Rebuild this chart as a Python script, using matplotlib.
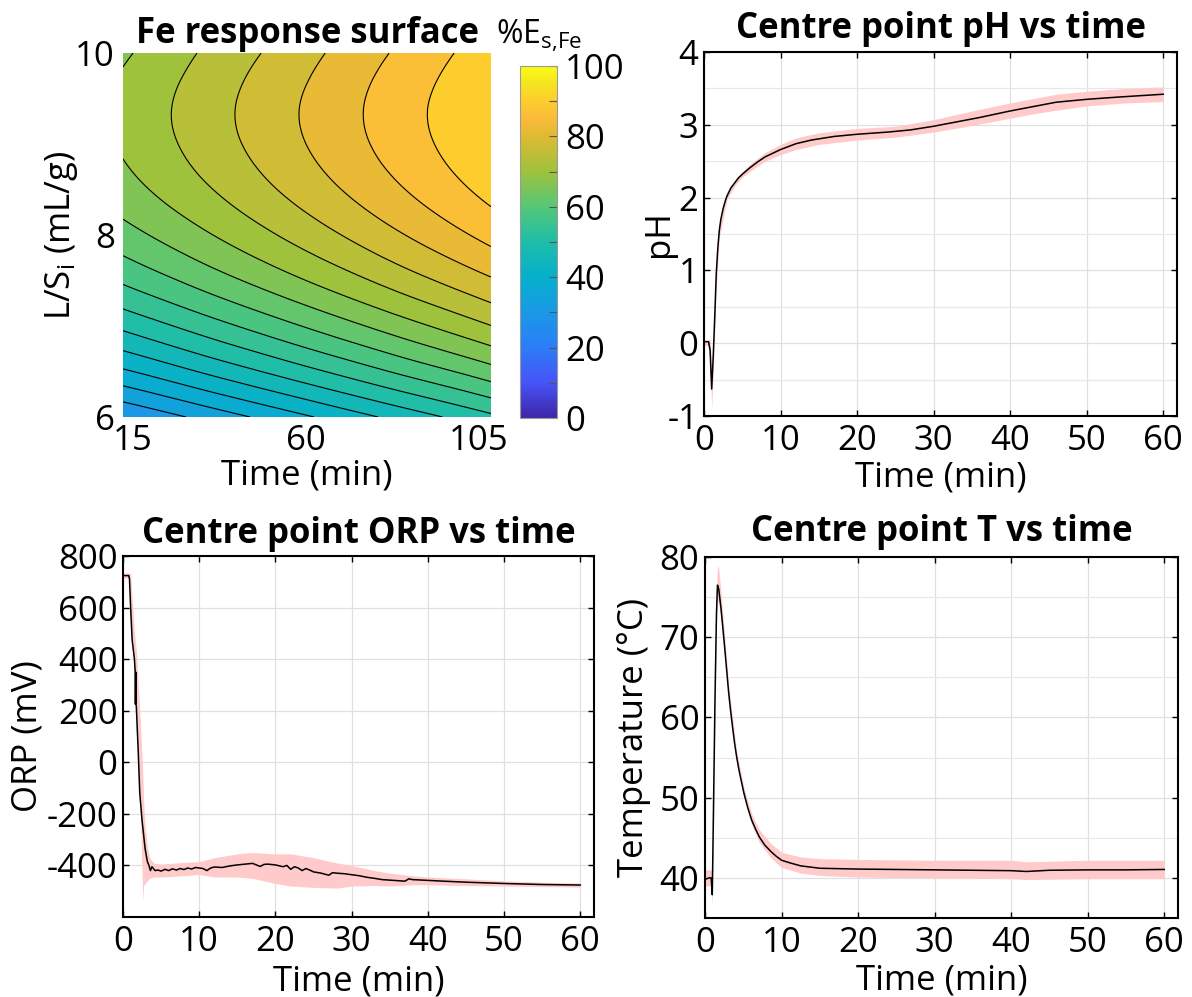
import numpy as np
import matplotlib
matplotlib.use('Agg')
import matplotlib.pyplot as plt
import matplotlib.tri as mtri
from matplotlib.colors import LinearSegmentedColormap, Normalize
from matplotlib.cm import ScalarMappable
from matplotlib.ticker import MultipleLocator

plt.rcParams['font.family'] = ['Open Sans', 'DejaVu Sans']
plt.rcParams['mathtext.fontset'] = 'custom'
plt.rcParams['mathtext.rm'] = 'Open Sans'
plt.rcParams['mathtext.it'] = 'Open Sans:italic'
plt.rcParams['axes.unicode_minus'] = False

FS = 25

# ---------------- data ----------------
# response surface (rows: L/S, cols: time)
rs_time = [12.4, 30, 45, 60, 75, 90, 108.1]
rs_ls = [6.0, 6.5, 7.0, 7.5, 8.0, 8.5, 9.0, 9.5, 10.0]
rs_fe = [
    [28.1, 32.3, 35.9, 39.5, 43.1, 46.7, 51.1],
    [39.4, 43.6, 47.2, 50.8, 54.4, 58.0, 62.4],
    [48.9, 53.1, 56.7, 60.3, 63.9, 67.5, 71.9],
    [56.6, 60.8, 64.4, 68.0, 71.6, 75.2, 79.5],
    [62.4, 66.6, 70.2, 73.8, 77.4, 81.0, 85.3],
    [66.4, 70.6, 74.2, 77.8, 81.4, 85.0, 89.3],
    [68.5, 72.8, 76.4, 80.0, 83.6, 87.2, 91.5],
    [68.9, 73.1, 76.7, 80.3, 83.9, 87.5, 91.8],
    [67.4, 71.6, 75.2, 78.8, 82.4, 86.0, 90.3],
]
rs_levels = list(range(0, 101, 4))

# pH vs time
ph_t = [0, 0.6, 0.8, 1.0, 1.2, 1.4, 1.6, 1.8, 2.0, 2.2, 2.5, 2.8, 3.0, 3.5, 4.0, 4.5, 5, 6, 7,
        8, 10, 12, 14, 17, 20, 24, 27, 30, 33, 36, 40, 43, 46, 50, 54, 57, 60]
ph_val = [0.02, 0.02, -0.1, -0.63, -0.2, 0.35, 0.95, 1.3, 1.55, 1.7, 1.85, 1.96, 2.02, 2.13,
          2.2, 2.27, 2.32, 2.41, 2.49, 2.56, 2.66, 2.74, 2.79, 2.84, 2.87, 2.9, 2.93, 2.98,
          3.04, 3.1, 3.19, 3.25, 3.31, 3.35, 3.38, 3.4, 3.42]
ph_bt = [0, 0.6, 0.8, 1.0, 1.2, 1.6, 2.0, 3.0, 4.0, 5, 6, 8, 10, 12, 15, 20, 25, 30, 35, 40,
         43, 46, 50, 55, 60]
ph_lo = [-0.03, -0.03, -0.25, -0.9, -0.45, 0.75, 1.45, 1.97, 2.16, 2.28, 2.36, 2.5, 2.59,
         2.66, 2.73, 2.79, 2.83, 2.9, 2.99, 3.09, 3.15, 3.2, 3.26, 3.3, 3.32]
ph_hi = [0.05, 0.05, 0.05, -0.4, 0.05, 1.1, 1.65, 2.07, 2.24, 2.36, 2.46, 2.62, 2.73, 2.82,
         2.89, 2.95, 2.98, 3.07, 3.19, 3.3, 3.36, 3.42, 3.46, 3.5, 3.52]

# ORP vs time
orp_t = [0, 0.75, 0.85, 1.0, 1.2, 1.5, 1.6, 1.63, 1.67, 1.7, 1.75, 2.0, 2.2, 2.5, 2.9, 3.2,
         3.4, 3.6, 3.8, 4.2, 4.6, 5.0, 5.5, 6.0, 6.5, 7.0, 7.5, 8.0, 8.5, 9.0, 9.5, 10.0,
         10.5, 11.0, 11.5, 12.0, 13.0, 14.0, 15.0, 16.0, 17.0, 17.5, 18.0, 18.5, 19.0, 20.0,
         21.0, 21.5, 22.0, 22.5, 23.0, 23.5, 24.0, 24.5, 25.0, 26.0, 27.0, 27.5, 28.0, 29.0,
         30.0, 31.0, 32.0, 33.0, 34.0, 35.0, 36.0, 37.0, 37.5, 38.0, 40.0, 42.0, 45.0, 48.0,
         50.0, 55.0, 60.0]
orp_mv = [724, 724, 712, 600, 475, 400, 350, 225, 350, 225, 215, 40, -120, -225, -335, -385,
          -400, -420, -405, -420, -418, -422, -415, -420, -413, -418, -412, -416, -410, -414,
          -408, -410, -412, -420, -410, -406, -408, -402, -398, -395, -392, -398, -404, -396,
          -395, -398, -405, -400, -415, -405, -410, -420, -412, -418, -425, -430, -438, -428,
          -430, -432, -436, -440, -446, -450, -455, -457, -459, -461, -452, -455, -458, -461,
          -465, -468, -470, -474, -476]
orp_bt = [0, 0.75, 0.9, 1.0, 1.2, 1.5, 1.8, 2.0, 2.3, 2.6, 2.7, 2.9, 3.2, 3.5, 4.0, 5, 8, 10,
          12, 15, 17, 20, 22, 25, 28, 30, 33, 35, 38, 40, 45, 50, 55, 60]
orp_lo = [715, 715, 690, 560, 450, 350, 150, -20, -200, -540, -480, -470, -460, -450, -445,
          -445, -440, -435, -445, -445, -450, -470, -480, -485, -488, -480, -478, -480, -475,
          -475, -478, -480, -482, -484]
orp_hi = [735, 735, 735, 730, 640, 500, 420, 300, 150, -50, -150, -250, -330, -370, -390,
          -395, -388, -385, -370, -355, -350, -355, -355, -370, -390, -400, -420, -430, -440,
          -445, -452, -460, -465, -468]

# temperature vs time
tc_t = [0, 0.5, 0.8, 0.95, 1.1, 1.3, 1.5, 1.63, 1.8, 2.1, 2.35, 2.6, 2.85, 3.1, 3.35, 3.6,
        3.85, 4.1, 4.35, 4.6, 5.1, 5.6, 6.1, 6.6, 7.1, 7.8, 8.6, 9.3, 10, 11, 12.5, 15, 20,
        25, 30, 35, 40, 42, 45, 50, 55, 60]
tc_val = [39.8, 40.0, 40.0, 37.9, 48, 62, 73, 76.5, 76.0, 73.5, 71.0, 68.4, 65.7, 63.0, 60.8,
          58.8, 56.9, 55.3, 53.9, 52.7, 50.5, 48.7, 47.2, 46.1, 45.1, 44.1, 43.3, 42.7, 42.2,
          41.9, 41.5, 41.2, 41.1, 41.05, 41.0, 40.95, 40.9, 40.8, 40.95, 41.0, 41.0, 41.05]
tc_bt = [0, 0.8, 0.95, 1.14, 1.34, 1.49, 1.63, 1.8, 2.1, 2.6, 3.1, 4.1, 5.1, 6.1, 7.1, 8.6,
         10, 12.5, 15, 20, 30, 40, 42, 50, 60]
tc_lo = [39.0, 39.0, 36.5, 47.5, 61.5, 71.5, 74.5, 74.3, 72.0, 67.3, 62.2, 54.7, 50.0, 46.6,
         44.4, 42.5, 41.3, 40.6, 40.3, 40.1, 40.0, 39.9, 39.8, 39.9, 39.9]
tc_hi = [41.0, 41.0, 39.5, 52.0, 66.5, 76.0, 79.0, 78.5, 75.5, 69.8, 64.0, 56.0, 51.2, 48.0,
         46.0, 44.3, 43.2, 42.6, 42.4, 42.3, 42.2, 42.2, 42.0, 42.2, 42.2]

# parula-like colormap
parula = LinearSegmentedColormap.from_list('parula', [
    (0.00, (0.2422, 0.1504, 0.6603)),
    (0.10, (0.2780, 0.3300, 0.9700)),
    (0.20, (0.1700, 0.4900, 0.9700)),
    (0.30, (0.1000, 0.6000, 0.9000)),
    (0.40, (0.0200, 0.6900, 0.8000)),
    (0.50, (0.1200, 0.7400, 0.6600)),
    (0.60, (0.3300, 0.7800, 0.4700)),
    (0.70, (0.6200, 0.7600, 0.2400)),
    (0.80, (0.8700, 0.7300, 0.2000)),
    (0.85, (0.9800, 0.7300, 0.2300)),
    (0.90, (0.9900, 0.8000, 0.1800)),
    (0.95, (0.9600, 0.8900, 0.1300)),
    (1.00, (0.9769, 0.9839, 0.0805)),
])
norm = Normalize(0, 100)

W, H = 1192, 997
fig = plt.figure(figsize=(W / 100, H / 100), dpi=100)


def box(l, t, r, b):
    return [l / W, 1 - b / H, (r - l) / W, (b - t) / H]


# ---------------- response surface ----------------
ax0 = fig.add_axes(box(123, 53, 491, 417))
tt, ll = np.meshgrid(rs_time, rs_ls)
zz = np.array(rs_fe)
# triangulate on normalised coords so the cubic refinement is isotropic
un = (tt.ravel() - rs_time[0]) / (rs_time[-1] - rs_time[0])
vn = (ll.ravel() - rs_ls[0]) / (rs_ls[-1] - rs_ls[0])
tri_n = mtri.Triangulation(un, vn)
tri_r, z_r = mtri.UniformTriRefiner(tri_n).refine_field(zz.ravel(), subdiv=4)
tri_p = mtri.Triangulation(rs_time[0] + tri_r.x * (rs_time[-1] - rs_time[0]),
                           rs_ls[0] + tri_r.y * (rs_ls[-1] - rs_ls[0]), tri_r.triangles)
ax0.tricontourf(tri_p, z_r, levels=rs_levels, cmap=parula, norm=norm)
ax0.tricontour(tri_p, z_r, levels=rs_levels, colors='k', linewidths=0.8)
ax0.set_xlim(rs_time[0], rs_time[-1])
ax0.set_ylim(6, 10)
ax0.set_xticks([15, 60, 105])
ax0.set_yticks([6, 8, 10])
ax0.tick_params(length=0, labelsize=FS)
ax0.tick_params(axis='x', pad=5)
ax0.tick_params(axis='y', pad=6)
for s in ax0.spines.values():
    s.set_visible(False)
ax0.set_title('Fe response surface', fontsize=FS, fontweight='bold', pad=7)
ax0.set_xlabel('Time (min)', fontsize=FS, va='baseline')
ax0.xaxis.set_label_coords(0.5, -67 / 364)
ax0.set_ylabel(r'L/S$_\mathregular{i}$ (mL/g)', fontsize=FS, va='center')
ax0.yaxis.set_label_coords(-61 / 368, 0.5)

cax = fig.add_axes(box(520, 66, 557, 418))
cb = fig.colorbar(ScalarMappable(norm=norm, cmap=parula), cax=cax)
cb.set_ticks(range(0, 101, 20))
cax.yaxis.set_minor_locator(MultipleLocator(10))
cax.tick_params(which='both', direction='in', length=6, width=0.8, color='#555555',
                labelsize=FS, pad=6)
cb.outline.set_edgecolor('#9a9a9a')
cb.outline.set_linewidth(0.8)
fig.text(539 / W, 1 - 44 / H, r'%E$_\mathregular{s{,}Fe}$', ha='center', va='baseline',
         fontsize=23)


# ---------------- time series ----------------
def series(ax, t, y, bt, lo, hi, title, ylabel, ylim, yticks, yminor, title_pad, ylab_x, xlab_y):
    ax.fill_between(bt, lo, hi, color='#ffcaca', lw=0, zorder=1.5)
    ax.plot(t, y, color='black', lw=1.1, zorder=3)
    ax.set_xlim(0, 61.8)
    ax.set_xticks(range(0, 61, 10))
    ax.set_ylim(*ylim)
    ax.set_yticks(yticks)
    if yminor:
        ax.yaxis.set_minor_locator(MultipleLocator(yminor))
        ax.grid(True, which='minor', axis='y', color='#e8e8e8', lw=0.9)
    ax.grid(True, which='major', color='#e0e0e0', lw=0.9)
    ax.set_axisbelow(True)
    ax.tick_params(which='major', direction='in', length=4, width=1, top=True, right=True,
                   labelsize=FS)
    ax.tick_params(axis='x', pad=6)
    ax.tick_params(axis='y', pad=4)
    ax.tick_params(which='minor', length=0)
    for s in ax.spines.values():
        s.set_linewidth(1.5)
    ax.set_title(title, fontsize=FS, fontweight='bold', pad=title_pad)
    ax.set_xlabel('Time (min)', fontsize=FS, va='baseline')
    ax.xaxis.set_label_coords(0.5, xlab_y)
    ax.set_ylabel(ylabel, fontsize=FS, va='center')
    ax.yaxis.set_label_coords(ylab_x, 0.5)


ax1 = fig.add_axes(box(704, 52, 1177, 416))
series(ax1, ph_t, ph_val, ph_bt, ph_lo, ph_hi, 'Centre point pH vs time', 'pH',
       (-1, 4), range(-1, 5), 0.5, 10, -45 / 473, -71 / 364)

ax2 = fig.add_axes(box(123, 556, 594, 917))
series(ax2, orp_t, orp_mv, orp_bt, orp_lo, orp_hi, 'Centre point ORP vs time', 'ORP (mV)',
       (-600, 800), range(-400, 801, 200), None, 9.4, -95 / 471, -73 / 361)

ax3 = fig.add_axes(box(705, 557, 1178, 918))
series(ax3, tc_t, tc_val, tc_bt, tc_lo, tc_hi, 'Centre point T vs time', 'Temperature (°C)',
       (35, 80), range(40, 81, 10), 5, 11.5, -71 / 473, -71 / 361)

fig.savefig('out.png', dpi=100)
